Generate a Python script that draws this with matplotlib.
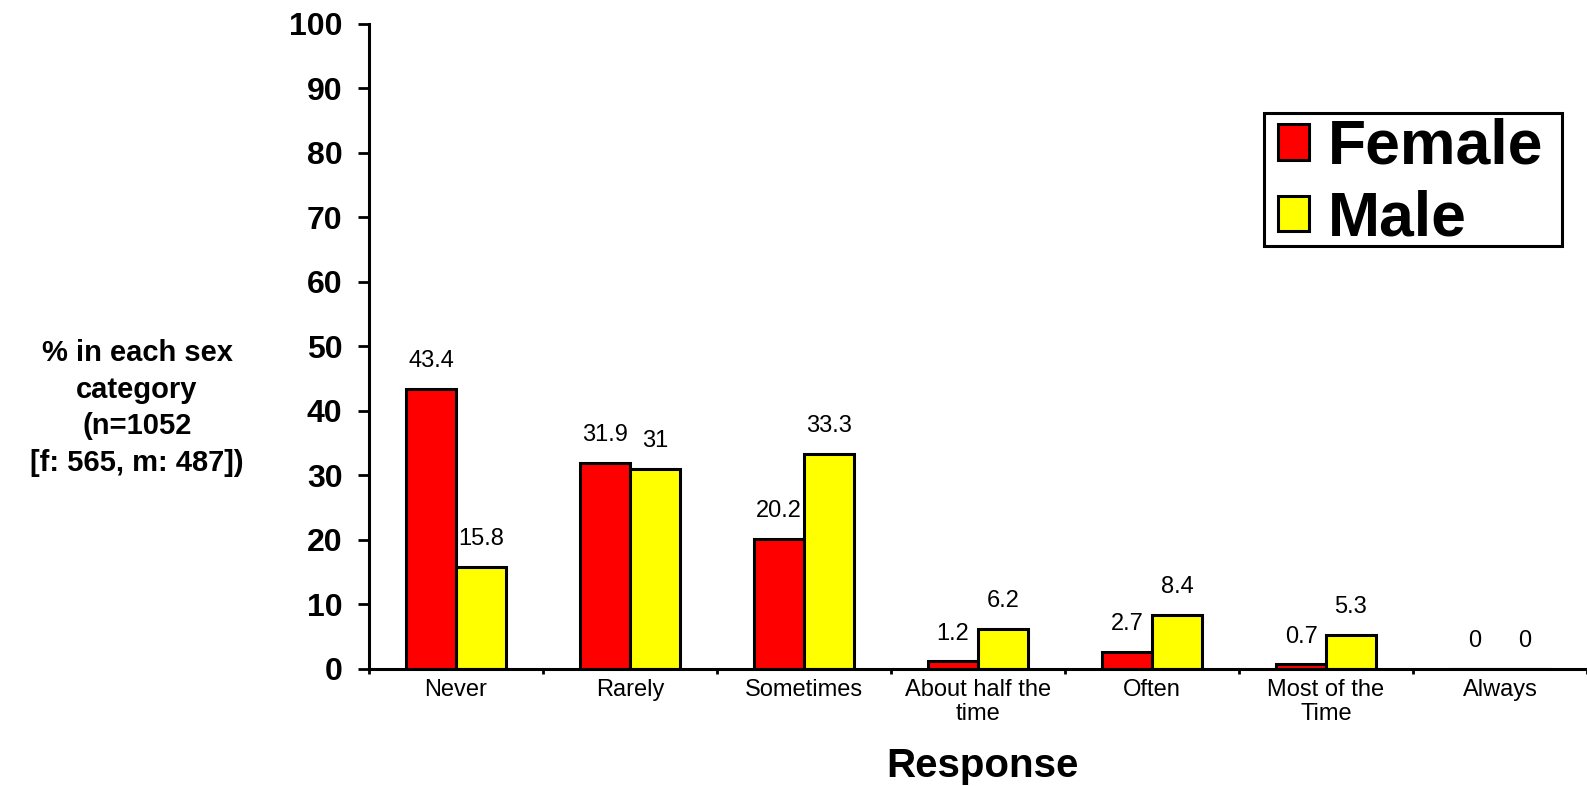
import matplotlib
matplotlib.use('Agg')
import matplotlib.pyplot as plt
from matplotlib.patches import Rectangle
import numpy as np

plt.rcParams['font.family'] = ['Liberation Sans', 'DejaVu Sans']

# data
categories = ['Never', 'Rarely', 'Sometimes', 'About half the\ntime', 'Often',
              'Most of the\nTime', 'Always']
female = [43.4, 31.9, 20.2, 1.2, 2.7, 0.7, 0]
male = [15.8, 31, 33.3, 6.2, 8.4, 5.3, 0]
yticks = [0, 10, 20, 30, 40, 50, 60, 70, 80, 90, 100]

fig = plt.figure(figsize=(15.87, 7.86), dpi=100)
ax = fig.add_axes([369/1587, 1-669/786, 1-369/1587, (669-23.7)/786])

x = np.arange(len(categories))
w = 0.286
b1 = ax.bar(x - w/2, female, w, color='#ff0000', edgecolor='black', linewidth=2.2, label='Female')
b2 = ax.bar(x + w/2, male, w, color='#ffff00', edgecolor='black', linewidth=2.2, label='Male')

# value labels
for bars, vals in [(b1, female), (b2, male)]:
    for r, v in zip(bars, vals):
        ax.annotate('%g' % v, xy=(r.get_x() + r.get_width()/2, v),
                    xytext=(0, 12), textcoords='offset points',
                    ha='center', va='bottom', fontsize=17)

ax.set_ylim(0, 100)
ax.set_xlim(-0.5, 6.466)
ax.set_yticks(yticks)
ax.set_yticklabels([str(t) for t in yticks], fontsize=23, fontweight='bold')
ax.tick_params(axis='y', length=8, width=2, pad=11, direction='out')

# boundaries as major ticks, names on minor ticks
ax.set_xticks(np.arange(-0.5, 7, 1))
ax.set_xticklabels([])
ax.tick_params(axis='x', which='major', length=3.5, width=2, direction='out')
ax.set_xticks(x, minor=True)
ax.set_xticklabels(categories, minor=True, fontsize=17, linespacing=1.15)
ax.tick_params(axis='x', which='minor', length=0, pad=7)

for s in ['top', 'right']:
    ax.spines[s].set_visible(False)
for s in ['left', 'bottom']:
    ax.spines[s].set_linewidth(2.2)

# legend without its own frame, box drawn separately
leg = ax.legend(loc='upper left', bbox_to_anchor=(1278/1587, 1-118/786),
                bbox_transform=fig.transFigure, prop={'size': 45, 'weight': 'bold'},
                handlelength=0.5, handleheight=0.5, handletextpad=0.3,
                labelspacing=0.2, borderpad=0, frameon=False, borderaxespad=0)
fig.patches.append(Rectangle((1264/1587, 1-246/786), 298/1587, 133/786,
                             transform=fig.transFigure, fill=False,
                             edgecolor='black', linewidth=2.2, zorder=5))

fig.text(982/1587, 1-766/786, 'Response', ha='center', va='center',
         fontsize=29, fontweight='bold')
fig.text(137/1587, 1-408/786, '% in each sex\ncategory\n(n=1052\n[f: 565, m: 487])',
         ha='center', va='center', multialignment='center',
         fontsize=21, fontweight='bold', linespacing=1.4)

fig.savefig('out.png', dpi=100)
